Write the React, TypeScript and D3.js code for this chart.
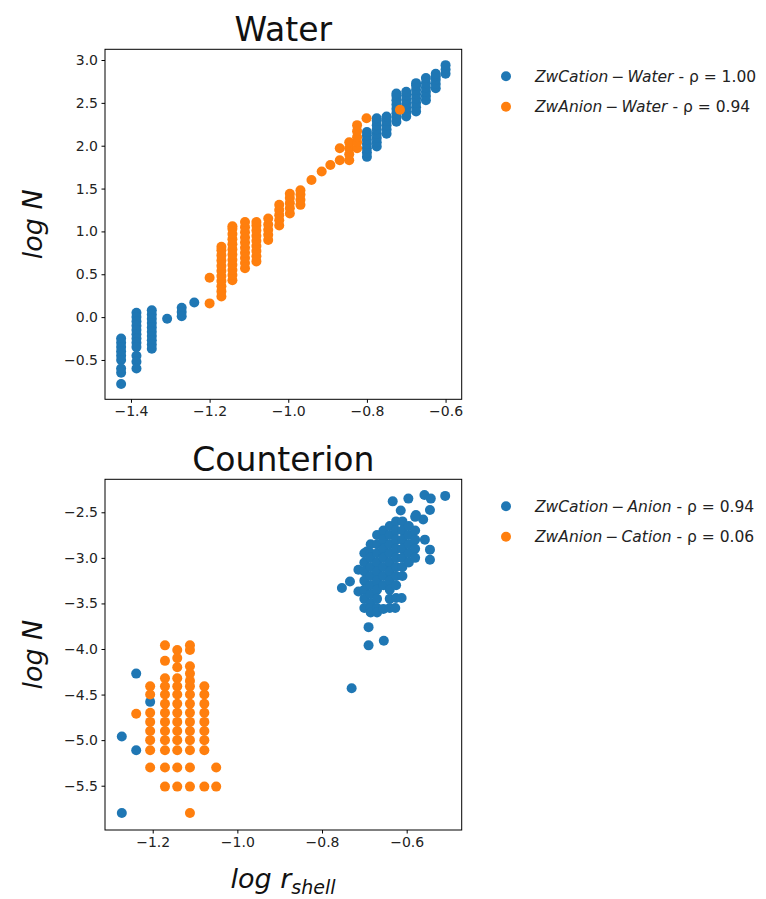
import React, { useEffect, useRef } from 'react';
import * as d3 from 'd3';

type Pt = [number, number];

// panel 1 : Water
const waterCation: Pt[] = [
  [-1.425, -0.25], [-1.425, -0.30], [-1.425, -0.35], [-1.425, -0.40], [-1.425, -0.45], [-1.425, -0.50],
  [-1.425, -0.60], [-1.425, -0.65], [-1.425, -0.78],
  [-1.386, 0.05], [-1.386, 0.0], [-1.386, -0.05], [-1.386, -0.10], [-1.386, -0.15], [-1.386, -0.20],
  [-1.386, -0.25], [-1.386, -0.30], [-1.386, -0.35], [-1.386, -0.45], [-1.386, -0.52], [-1.386, -0.60],
  [-1.347, 0.08], [-1.347, 0.03], [-1.347, -0.02], [-1.347, -0.07], [-1.347, -0.12], [-1.347, -0.17],
  [-1.347, -0.22], [-1.347, -0.27], [-1.347, -0.32], [-1.347, -0.37],
  [-1.308, -0.02],
  [-1.271, 0.11], [-1.271, 0.06], [-1.271, 0.01],
  [-1.239, 0.17],
  [-0.80, 1.87], [-0.80, 1.92], [-0.80, 1.97], [-0.80, 2.02], [-0.80, 2.07], [-0.80, 2.12], [-0.80, 2.16],
  [-0.775, 1.99], [-0.775, 2.04], [-0.775, 2.09], [-0.775, 2.14], [-0.775, 2.19], [-0.775, 2.24], [-0.775, 2.29], [-0.775, 2.32],
  [-0.75, 2.14], [-0.75, 2.19], [-0.75, 2.24], [-0.75, 2.29], [-0.75, 2.34],
  [-0.725, 2.28], [-0.725, 2.33], [-0.725, 2.38], [-0.725, 2.43], [-0.725, 2.48], [-0.725, 2.53], [-0.725, 2.58], [-0.725, 2.61],
  [-0.70, 2.34], [-0.70, 2.39], [-0.70, 2.44], [-0.70, 2.49], [-0.70, 2.54], [-0.70, 2.59], [-0.70, 2.63],
  [-0.675, 2.40], [-0.675, 2.45], [-0.675, 2.50], [-0.675, 2.55], [-0.675, 2.60], [-0.675, 2.65], [-0.675, 2.70], [-0.675, 2.73],
  [-0.65, 2.53], [-0.65, 2.58], [-0.65, 2.63], [-0.65, 2.68], [-0.65, 2.73], [-0.65, 2.79],
  [-0.625, 2.67], [-0.625, 2.72], [-0.625, 2.77], [-0.625, 2.81], [-0.625, 2.84],
  [-0.60, 2.84], [-0.60, 2.89], [-0.60, 2.94],
];

const waterAnion: Pt[] = [
  [-1.2, 0.46], [-1.2, 0.16],
  [-1.17, 0.24], [-1.17, 0.30], [-1.17, 0.36], [-1.17, 0.42], [-1.17, 0.48], [-1.17, 0.54], [-1.17, 0.60],
  [-1.17, 0.66], [-1.17, 0.72], [-1.17, 0.78], [-1.17, 0.82],
  [-1.142, 0.43], [-1.142, 0.49], [-1.142, 0.55], [-1.142, 0.61], [-1.142, 0.67], [-1.142, 0.73], [-1.142, 0.79],
  [-1.142, 0.85], [-1.142, 0.91], [-1.142, 0.97], [-1.142, 1.03], [-1.142, 1.06],
  [-1.11, 0.57], [-1.11, 0.63], [-1.11, 0.69], [-1.11, 0.75], [-1.11, 0.81], [-1.11, 0.87], [-1.11, 0.93],
  [-1.11, 0.99], [-1.11, 1.05], [-1.11, 1.11],
  [-1.081, 0.65], [-1.081, 0.71], [-1.081, 0.77], [-1.081, 0.83], [-1.081, 0.89], [-1.081, 0.95], [-1.081, 1.01],
  [-1.081, 1.07], [-1.081, 1.11],
  [-1.051, 0.90], [-1.051, 0.96], [-1.051, 1.02], [-1.051, 1.08], [-1.051, 1.15],
  [-1.023, 1.07], [-1.023, 1.13], [-1.023, 1.19], [-1.023, 1.25], [-1.023, 1.31],
  [-0.996, 1.21], [-0.996, 1.27], [-0.996, 1.33], [-0.996, 1.39], [-0.996, 1.44],
  [-0.969, 1.31], [-0.969, 1.37], [-0.969, 1.43], [-0.969, 1.48],
  [-0.941, 1.60], [-0.915, 1.70], [-0.893, 1.775],
  [-0.869, 1.83], [-0.869, 1.97],
  [-0.845, 1.83], [-0.845, 1.90], [-0.845, 1.97], [-0.845, 2.04],
  [-0.825, 1.97], [-0.825, 2.04], [-0.825, 2.10], [-0.825, 2.17], [-0.825, 2.24],
  [-0.801, 2.32],
  [-0.716, 2.42],
];

// panel 2 : Counterion
const counterCation: Pt[] = [
  [-1.273, -4.96], [-1.239, -4.27], [-1.239, -5.11], [-1.273, -5.80], [-1.206, -4.58],
  [-0.73, -4.43], [-0.69, -3.96], [-0.69, -3.76], [-0.654, -3.91],
  [-0.753, -3.33], [-0.734, -3.26], [-0.714, -3.13], [-0.714, -3.37], [-0.694, -2.93],
  [-0.633, -2.38], [-0.596, -2.35], [-0.558, -2.31], [-0.543, -2.35], [-0.509, -2.32], [-0.545, -2.475], [-0.614, -2.48],
  [-0.545, -2.91], [-0.545, -3.02], [-0.557, -2.80], [-0.561, -2.58], [-0.578, -2.53],
  [-0.70, -2.95], [-0.70, -3.05], [-0.70, -3.15], [-0.70, -3.25], [-0.70, -3.35], [-0.70, -3.45], [-0.70, -3.55],
  [-0.685, -2.85], [-0.685, -2.95], [-0.685, -3.0], [-0.685, -3.1], [-0.685, -3.2], [-0.685, -3.3], [-0.685, -3.4],
  [-0.685, -3.5], [-0.685, -3.55], [-0.685, -3.6],
  [-0.67, -2.75], [-0.67, -2.85], [-0.67, -2.95], [-0.67, -3.05], [-0.67, -3.15], [-0.67, -3.25], [-0.67, -3.35],
  [-0.67, -3.45], [-0.67, -3.55], [-0.67, -3.6],
  [-0.655, -2.7], [-0.655, -2.8], [-0.655, -2.9], [-0.655, -3.0], [-0.655, -3.1], [-0.655, -3.2], [-0.655, -3.3], [-0.655, -3.56],
  [-0.64, -2.65], [-0.64, -2.75], [-0.64, -2.85], [-0.64, -2.95], [-0.64, -3.05], [-0.64, -3.15], [-0.64, -3.25],
  [-0.64, -3.35], [-0.64, -3.45], [-0.64, -3.55],
  [-0.625, -2.6], [-0.625, -2.7], [-0.625, -2.8], [-0.625, -2.9], [-0.625, -3.0], [-0.625, -3.1], [-0.625, -3.2],
  [-0.625, -3.3], [-0.625, -3.44], [-0.627, -3.55],
  [-0.61, -2.6], [-0.61, -2.7], [-0.61, -2.8], [-0.61, -2.9], [-0.61, -3.0], [-0.61, -3.1], [-0.61, -3.2], [-0.612, -3.44],
  [-0.595, -2.65], [-0.595, -2.75], [-0.595, -2.85], [-0.595, -2.95], [-0.595, -3.05],
  [-0.58, -2.55], [-0.58, -2.7], [-0.58, -2.8], [-0.58, -2.9], [-0.58, -3.0],
];

const counterAnion: Pt[] = [
  [-1.239, -4.71],
  [-1.206, -4.41], [-1.206, -4.50], [-1.206, -4.70], [-1.206, -4.80], [-1.206, -4.90], [-1.206, -5.00],
  [-1.206, -5.11], [-1.206, -5.30],
  [-1.171, -3.96], [-1.171, -4.13], [-1.171, -4.32], [-1.171, -4.41], [-1.171, -4.50], [-1.171, -4.60], [-1.171, -4.70],
  [-1.171, -4.80], [-1.171, -4.90], [-1.171, -5.00], [-1.171, -5.11], [-1.171, -5.30], [-1.171, -5.51],
  [-1.142, -4.01], [-1.142, -4.10], [-1.142, -4.20], [-1.142, -4.32], [-1.142, -4.41], [-1.142, -4.50], [-1.142, -4.60],
  [-1.142, -4.70], [-1.142, -4.80], [-1.142, -4.90], [-1.142, -5.00], [-1.142, -5.11], [-1.142, -5.30], [-1.142, -5.51],
  [-1.112, -3.96], [-1.112, -4.01], [-1.112, -4.19], [-1.112, -4.27], [-1.112, -4.35], [-1.112, -4.41], [-1.112, -4.50],
  [-1.112, -4.60], [-1.112, -4.70], [-1.112, -4.80], [-1.112, -4.90], [-1.112, -5.00], [-1.112, -5.11], [-1.112, -5.30],
  [-1.112, -5.51], [-1.112, -5.80],
  [-1.078, -4.41], [-1.078, -4.50], [-1.078, -4.60], [-1.078, -4.70], [-1.078, -4.80], [-1.078, -4.90], [-1.078, -5.00],
  [-1.078, -5.11], [-1.078, -5.51],
  [-1.05, -5.30], [-1.05, -5.51],
];

const waterXTicks = [-1.4, -1.2, -1.0, -0.8, -0.6];
const waterYTicks = [-0.5, 0.0, 0.5, 1.0, 1.5, 2.0, 2.5, 3.0];
const counterXTicks = [-1.2, -1.0, -0.8, -0.6];
const counterYTicks = [-5.5, -5.0, -4.5, -4.0, -3.5, -3.0, -2.5];

const waterLegend = [
  { a: 'ZwCation', b: 'Water', rho: '1.00' },
  { a: 'ZwAnion', b: 'Water', rho: '0.94' },
];
const counterLegend = [
  { a: 'ZwCation', b: 'Anion', rho: '0.94' },
  { a: 'ZwAnion', b: 'Cation', rho: '0.06' },
];

const colors = ['#1f77b4', '#ff7f0e'];
const FONT = 'DejaVu Sans, sans-serif';

function drawPanel(svg, opts) {
  const { top, bottom, xDomain, yDomain, xTicks, yTicks, series, title, legend, titleY } = opts;
  const left = 105;
  const right = 461.7;

  const x = d3.scaleLinear().domain(xDomain).range([left, right]);
  const y = d3.scaleLinear().domain(yDomain).range([bottom, top]);
  const fmt = d3.format('.1f');

  const g = svg.append('g');

  series.forEach((data, i) => {
    g.append('g')
      .selectAll('circle')
      .data(data)
      .enter().append('circle')
      .attr('cx', (d) => x(d[0]))
      .attr('cy', (d) => y(d[1]))
      .attr('r', 5)
      .attr('fill', colors[i]);
  });

  // frame
  g.append('rect')
    .attr('x', left).attr('y', top)
    .attr('width', right - left).attr('height', bottom - top)
    .attr('fill', 'none').attr('stroke', '#000').attr('stroke-width', 1);

  const xa = g.append('g')
    .attr('transform', `translate(0,${bottom})`)
    .call(d3.axisBottom(x).tickValues(xTicks).tickFormat(fmt).tickSize(3.5).tickPadding(3.5));
  const ya = g.append('g')
    .attr('transform', `translate(${left},0)`)
    .call(d3.axisLeft(y).tickValues(yTicks).tickFormat(fmt).tickSize(3.5).tickPadding(3.5));
  [xa, ya].forEach((a) => {
    a.select('.domain').remove();
    a.selectAll('text').style('font-family', FONT).style('font-size', '14px').attr('fill', '#222');
    a.selectAll('line').attr('stroke', '#000');
  });

  g.append('text')
    .attr('x', (left + right) / 2).attr('y', titleY)
    .attr('text-anchor', 'middle')
    .style('font-family', FONT).style('font-size', '33px')
    .attr('fill', '#111')
    .text(title);

  // y label
  g.append('text')
    .attr('transform', `translate(42,${(top + bottom) / 2}) rotate(-90)`)
    .attr('text-anchor', 'middle')
    .style('font-family', FONT).style('font-size', '27px').style('font-style', 'italic')
    .attr('fill', '#111')
    .text('log N');

  // legend
  legend.forEach((l, i) => {
    const ly = top + 27 + i * 30.5;
    g.append('circle').attr('cx', 506).attr('cy', ly).attr('r', 5).attr('fill', colors[i]);
    const t = g.append('text')
      .attr('x', 535).attr('y', ly + 5.5)
      .style('font-family', FONT).style('font-size', '15.5px')
      .attr('fill', '#222');
    t.append('tspan').style('font-style', 'italic').text(l.a);
    t.append('tspan').text('\u2009\u2212\u2009');
    t.append('tspan').style('font-style', 'italic').text(l.b);
    t.append('tspan').text(` - \u03c1 = ${l.rho}`);
  });

  return x;
}

export default function App() {
  const ref = useRef(null);

  useEffect(() => {
    const svg = d3.select(ref.current);
    svg.selectAll('*').remove();

    drawPanel(svg, {
      top: 49.3, bottom: 399.3,
      xDomain: [-1.466, -0.559], yDomain: [-0.959, 3.125],
      xTicks: waterXTicks, yTicks: waterYTicks,
      series: [waterCation, waterAnion],
      title: 'Water', titleY: 41, legend: waterLegend,
    });

    drawPanel(svg, {
      top: 479.3, bottom: 830,
      xDomain: [-1.3127, -0.470], yDomain: [-5.986, -2.138],
      xTicks: counterXTicks, yTicks: counterYTicks,
      series: [counterCation, counterAnion],
      title: 'Counterion', titleY: 471, legend: counterLegend,
    });

    // x label
    const xl = svg.append('text')
      .attr('x', 283).attr('y', 888)
      .attr('text-anchor', 'middle')
      .style('font-family', FONT).style('font-size', '27px').style('font-style', 'italic')
      .attr('fill', '#111');
    xl.append('tspan').text('log r');
    xl.append('tspan').attr('dy', 6).style('font-size', '19px').text('shell');
  }, []);

  return (
    <svg ref={ref} width={766} height={899}
      style={{ position: 'absolute', left: 0, top: 0, background: '#fff' }} />
  );
}
